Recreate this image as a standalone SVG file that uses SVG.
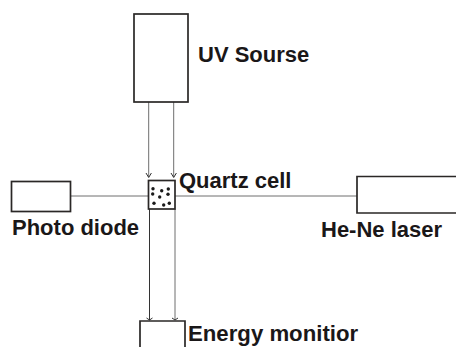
<svg xmlns="http://www.w3.org/2000/svg" width="456" height="347" viewBox="0 0 456 347">
<style>
.box{fill:#fff;stroke:#2a2726;stroke-width:1.7}
.ln{fill:none;stroke:#6e6e6e;stroke-width:1}
.dk{fill:none;stroke:#333;stroke-width:1}
.ah{fill:none;stroke:#333;stroke-width:1}
text{font-family:"Liberation Sans",Arial,sans-serif;font-weight:700;font-size:22px;fill:#1a1718}
.d{fill:#1a1a1a}
</style>
<rect width="456" height="347" fill="#fff"/>
<g id="connectors">
<path class="ln" d="M70 196H148"/>
<path class="ln" d="M175 196H357"/>
<path class="ln" d="M148.700 102V177M173.700 102V177"/>
<path class="ah" d="M146 173L148.700 177.500L151.400 173M171 173L173.700 177.500L176.400 173"/>
<path class="dk" d="M149.500 209V320"/>
<path class="ln" d="M175 209V320"/>
<path class="ah" d="M146.500 318L149.500 320L152.500 318M172 318L175 320L178 318"/>
</g>
<g id="uv-source"><rect class="box" x="134" y="14" width="54" height="88"/><text x="198" y="62">UV Sourse</text></g>
<g id="quartz-cell"><rect class="box" x="148.500" y="180.500" width="26.500" height="28.500"/>
<g class="d"><circle cx="153" cy="188.700" r="1.700"/><circle cx="161.700" cy="190.700" r="1.700"/><circle cx="168.300" cy="189" r="1.700"/><circle cx="152.700" cy="194" r="1.700"/><circle cx="159.700" cy="197" r="1.700"/><circle cx="168" cy="194.300" r="1.700"/><circle cx="154" cy="203.300" r="1.700"/><circle cx="163.700" cy="205" r="1.700"/><circle cx="169.300" cy="203.300" r="1.700"/></g>
<text x="179" y="188">Quartz cell</text></g>
<g id="photo-diode"><rect class="box" x="11.500" y="181.500" width="59" height="30"/><text x="12" y="235">Photo diode</text></g>
<g id="he-ne-laser"><path class="box" d="M456 176.500H357V213H456"/><text x="321" y="237">He-Ne laser</text></g>
<g id="energy-monitor"><path class="box" d="M140 347V321H185V347"/><text x="188" y="341" style="font-size:22.200px">Energy monitior</text></g>
</svg>
